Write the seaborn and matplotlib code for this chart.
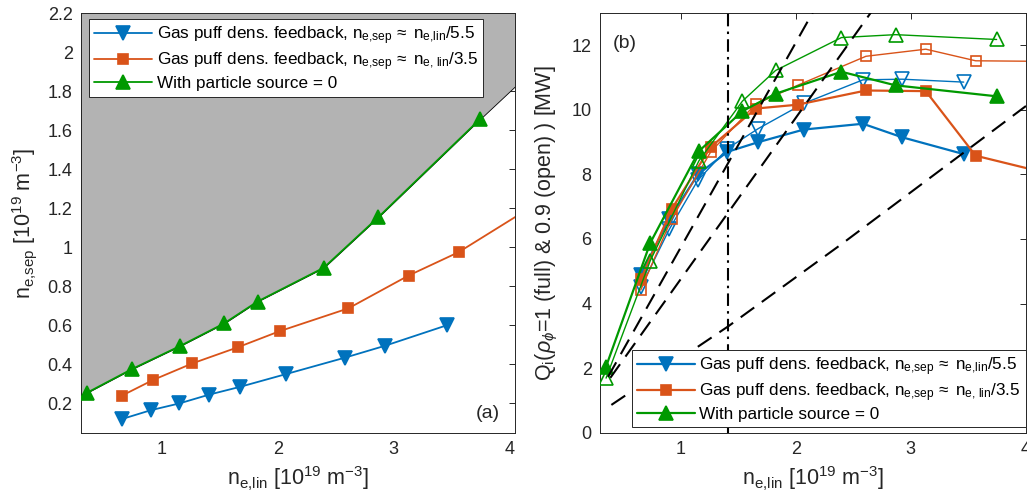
import matplotlib
matplotlib.use("Agg")
import matplotlib.pyplot as plt
import seaborn as sns
from matplotlib.ticker import FuncFormatter

# ---------------------------------------------------------------------------
# Density scans: line-averaged density n_e,lin [1e19 m^-3]
n_lin_fb55 = [0.654, 0.902, 1.150, 1.407, 1.675, 2.070, 2.584, 2.925, 3.459]
n_lin_fb35 = [0.654, 0.922, 1.262, 1.652, 2.016, 2.610, 3.130, 3.563, 4.250]
n_lin_src0 = [0.353, 0.737, 1.159, 1.537, 1.825, 2.397, 2.867, 3.745]

# Separatrix density n_e,sep [1e19 m^-3]
n_sep_fb55 = [0.120, 0.165, 0.200, 0.245, 0.285, 0.350, 0.435, 0.495, 0.600]
n_sep_fb35 = [0.240, 0.320, 0.405, 0.487, 0.570, 0.687, 0.855, 0.975, 1.228]
n_sep_src0 = [0.255, 0.375, 0.495, 0.610, 0.722, 0.895, 1.153, 1.655]

# Edge of the inaccessible region (above the zero-source curve)
limit_n_lin = [0.30] + n_lin_src0 + [4.06]
limit_n_sep = [0.237] + n_sep_src0 + [1.830]

# Ion heat flux Q_i [MW] at rho_phi = 1 (full) and rho_phi = 0.9 (open)
qi_full_fb55 = [4.90, 6.62, 8.00, 8.70, 9.00, 9.39, 9.57, 9.15, 8.63]
qi_open_fb55 = [4.50, 6.30, 7.82, 8.80, 9.42, 10.20, 10.93, 10.95, 10.86]
qi_full_fb35 = [4.75, 6.92, 8.85, 10.04, 10.16, 10.60, 10.58, 8.58, 7.98]
qi_open_fb35 = [4.42, 6.62, 8.70, 10.18, 10.76, 11.66, 11.88, 11.52, 11.50]
qi_full_src0 = [2.05, 5.88, 8.72, 9.96, 10.50, 11.18, 10.76, 10.42]
qi_open_src0 = [1.69, 5.33, 8.42, 10.27, 11.22, 12.24, 12.33, 12.18]

# Reference guide curves (n_e,lin, Q_i)
guide1_n = [0.370, 2.150]
guide1_q = [1.730, 13.030]
guide2_n = [0.390, 2.690]
guide2_q = [1.700, 13.200]
guide3_n = [0.399, 1.416, 2.394, 4.000]
guide3_q = [0.860, 3.300, 5.830, 10.120]
n_lin_marker = 1.416

labels = [
    "Gas puff dens. feedback, n$_{e{,}sep}$$\\,\\approx\\;$n$_{e{,}lin}$/5.5",
    "Gas puff dens. feedback, n$_{e{,}sep}$$\\,\\approx\\;$n$_{e{,}\\ lin}$/3.5",
    "With particle source = 0",
]

# ---------------------------------------------------------------------------
sns.set_theme(style="white")
plt.rcParams["font.family"] = ["Liberation Sans", "DejaVu Sans"]
plt.rcParams["mathtext.fontset"] = "custom"
plt.rcParams["mathtext.rm"] = "Liberation Sans"
plt.rcParams["mathtext.it"] = "Liberation Sans:italic"
plt.rcParams["mathtext.default"] = "regular"

INK = "#262626"
BLUE = "#0072BD"
ORANGE = "#D95319"
GREEN = "#009900"

fig = plt.figure(figsize=(10.27, 4.97), dpi=100)
ax1 = fig.add_axes([0.0789, 0.1294, 0.4226, 0.8444])
ax2 = fig.add_axes([0.5842, 0.1294, 0.4148, 0.8444])

TICK_FS = 13
LABEL_FS = 15.5
LEG_FS = 12.3
TAG_FS = 14


def style_axes(ax):
    for sp in ax.spines.values():
        sp.set_color(INK)
        sp.set_linewidth(0.7)
    ax.tick_params(direction="in", length=4.5, width=0.7, colors=INK,
                   labelsize=TICK_FS, top=True, right=True, pad=6)
    ax.xaxis.set_major_formatter(FuncFormatter(lambda v, p: f"{v:g}"))
    ax.yaxis.set_major_formatter(FuncFormatter(lambda v, p: f"{v:g}"))


def series(ax, x, y, color, marker, ms, lw, filled=True, z=3):
    sns.lineplot(x=x, y=y, ax=ax, color=color, linewidth=lw, marker=marker,
                 markersize=ms, markeredgecolor=color,
                 markerfacecolor=color if filled else "none",
                 markeredgewidth=1.2, sort=False, estimator=None,
                 legend=False, zorder=z)
    return ax.lines[-1]


# ---- (a) separatrix density ------------------------------------------------
ax1.fill_between(limit_n_lin, limit_n_sep, 2.4, facecolor="#B3B3B3",
                 edgecolor="black", linewidth=0.6, zorder=1)
h1 = series(ax1, n_lin_fb55, n_sep_fb55, BLUE, "v", 10, 1.3)
h2 = series(ax1, n_lin_fb35, n_sep_fb35, ORANGE, "s", 7.5, 1.3)
h3 = series(ax1, n_lin_src0, n_sep_src0, GREEN, "^", 10, 1.3)

ax1.set_xlim(0.3, 4.05)
ax1.set_ylim(0.05, 2.2)
ax1.set_xticks([1, 2, 3, 4])
ax1.set_yticks([0.2, 0.4, 0.6, 0.8, 1.0, 1.2, 1.4, 1.6, 1.8, 2.0, 2.2])
style_axes(ax1)
ax1.set_xlabel("n$_{e{,}lin}$ [10$^{19}$ m$^{-3}$]", fontsize=LABEL_FS,
               color=INK, labelpad=5)
ax1.set_ylabel("n$_{e{,}sep}$ [10$^{19}$ m$^{-3}$]", fontsize=LABEL_FS,
               color=INK, labelpad=6)
ax1.text(0.966, 0.046, "(a)", transform=ax1.transAxes, ha="right",
         va="center", fontsize=TAG_FS, color=INK)

leg_kw = dict(fontsize=LEG_FS, frameon=True, fancybox=False, framealpha=1,
              edgecolor=INK, handlelength=3.4, handletextpad=0.25,
              labelspacing=0.2, borderpad=0.3, borderaxespad=0)
leg1 = ax1.legend([h1, h2, h3], labels, loc="upper left",
                  bbox_to_anchor=(0.019, 0.985), **leg_kw)
leg1.get_frame().set_linewidth(0.7)
for t in leg1.get_texts():
    t.set_color("black")

# ---- (b) ion heat flux ----------------------------------------------------
series(ax2, n_lin_fb55, qi_open_fb55, BLUE, "v", 10, 1.0, filled=False)
g1 = series(ax2, n_lin_fb55, qi_full_fb55, BLUE, "v", 10, 1.6)
series(ax2, n_lin_fb35, qi_open_fb35, ORANGE, "s", 7.5, 1.0, filled=False)
g2 = series(ax2, n_lin_fb35, qi_full_fb35, ORANGE, "s", 7.5, 1.6)
series(ax2, n_lin_src0, qi_open_src0, GREEN, "^", 10, 1.0, filled=False)
g3 = series(ax2, n_lin_src0, qi_full_src0, GREEN, "^", 10, 1.6)

for gx, gy in [(guide1_n, guide1_q), (guide2_n, guide2_q), (guide3_n, guide3_q)]:
    sns.lineplot(x=gx, y=gy, ax=ax2, color="black", linewidth=1.5,
                 dashes=False, sort=False, estimator=None, legend=False,
                 zorder=4)
    ax2.lines[-1].set_dashes((8, 4.5))
ax2.axvline(n_lin_marker, color="black", linewidth=1.5, zorder=4,
            dashes=(6, 2.5, 1.2, 2.5))

ax2.set_xlim(0.3, 4.0)
ax2.set_ylim(0, 13)
ax2.set_xticks([1, 2, 3, 4])
ax2.set_yticks([0, 2, 4, 6, 8, 10, 12])
style_axes(ax2)
ax2.set_xlabel("n$_{e{,}lin}$ [10$^{19}$ m$^{-3}$]", fontsize=LABEL_FS,
               color=INK, labelpad=5)
ax2.set_ylabel(r"Q$_i$($\it{\rho_\phi}$=1 (full) & 0.9 (open) ) [MW]",
               fontsize=LABEL_FS, color=INK, labelpad=8)
ax2.text(0.031, 0.928, "(b)", transform=ax2.transAxes, ha="left",
         va="center", fontsize=TAG_FS, color=INK)

leg2 = ax2.legend([g1, g2, g3], labels, loc="lower right",
                  bbox_to_anchor=(1.0, 0.013), **leg_kw)
leg2.get_frame().set_linewidth(0.7)
leg2.set_zorder(6)
for t in leg2.get_texts():
    t.set_color("black")

fig.savefig("out.png", dpi=100)
